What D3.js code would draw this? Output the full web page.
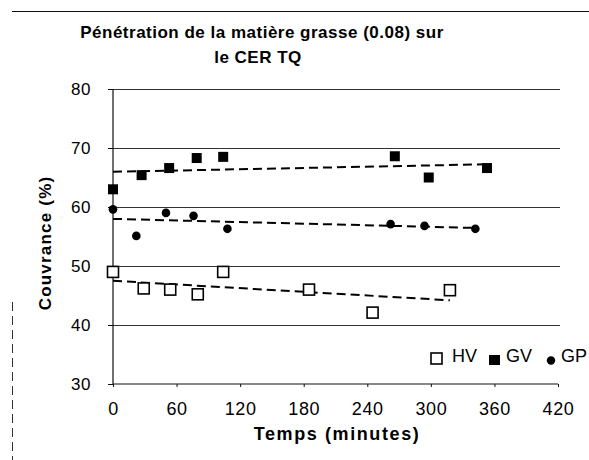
<!DOCTYPE html>
<html><head><meta charset="utf-8">
<script src="https://cdn.jsdelivr.net/npm/d3@7/dist/d3.min.js"></script>
<style>
html,body{margin:0;padding:0;background:#fff;}
svg{display:block;font-family:"Liberation Sans",Arial,Helvetica,sans-serif;}
</style></head>
<body>
<svg id="chart" width="589" height="460"></svg>
<script>
// ---- data ----
const title1 = "Pénétration de la matière grasse (0.08) sur";
const title2 = "le CER TQ";
const xTitle = "Temps (minutes)";
const yTitle = "Couvrance (%)";
const xTicks = [0, 60, 120, 180, 240, 300, 360, 420];
const yTicks = [30, 40, 50, 60, 70, 80];
const seriesNames = ["HV", "GV", "GP"];

const hvX = [0, 29, 54, 80, 104, 185, 245, 318];
const hvY = [49.0, 46.2, 46.0, 45.2, 49.0, 46.0, 42.1, 45.9];
const gvX = [0, 27, 53, 79, 104, 266, 298, 353];
const gvY = [63.0, 65.4, 66.6, 68.3, 68.5, 68.6, 65.0, 66.6];
const gpX = [0, 22, 50, 76, 108, 262, 294, 342];
const gpY = [59.6, 55.1, 59.0, 58.5, 56.3, 57.1, 56.8, 56.3];

(function () {
const svg = d3.select("#chart");
const pL = 113, pR = 558, pT = 89, pB = 384;
const x = d3.scaleLinear().domain([0, 420]).range([pL, pR]);
const y = d3.scaleLinear().domain([30, 80]).range([pB, pT]);

// scan border artifacts
svg.append("line").attr("x1", 12).attr("x2", 589).attr("y1", 11.5).attr("y2", 11.5)
  .attr("stroke", "#111").attr("stroke-width", 1);
svg.append("line").attr("x1", 12.5).attr("x2", 12.5).attr("y1", 302).attr("y2", 460)
  .attr("stroke", "#333").attr("stroke-width", 1).attr("stroke-dasharray", "9,5");

// title
svg.append("text").attr("x", 262).attr("y", 38).attr("text-anchor", "middle")
  .attr("font-size", 17).attr("font-weight", "bold").attr("letter-spacing", 0.5).text(title1);
svg.append("text").attr("x", 258).attr("y", 63).attr("text-anchor", "middle")
  .attr("font-size", 17).attr("font-weight", "bold").attr("letter-spacing", 0.5).text(title2);

// gridlines
svg.append("g").selectAll("line").data(yTicks.filter(d => d > 30)).join("line")
  .attr("x1", pL).attr("x2", pR + 2)
  .attr("y1", d => Math.round(y(d)) + 0.5).attr("y2", d => Math.round(y(d)) + 0.5)
  .attr("stroke", "#333").attr("stroke-width", 1);

// axes
const yAxis = svg.append("g").attr("transform", `translate(${pL},0)`)
  .call(d3.axisLeft(y).tickValues(yTicks).tickSize(5).tickPadding(17).tickFormat(d3.format("d")));
const xAxis = svg.append("g").attr("transform", `translate(0,${pB})`)
  .call(d3.axisBottom(x).tickValues(xTicks).tickSize(3).tickPadding(15).tickFormat(d3.format("d")));
[xAxis, yAxis].forEach(a => {
  a.select(".domain").attr("stroke", "#111").attr("stroke-width", 1.2);
  a.selectAll(".tick line").attr("stroke", "#111");
  a.selectAll("text").attr("fill", "#000")
    .attr("font-family", "\"Liberation Sans\",Arial,sans-serif").attr("letter-spacing", 0.6);
});
yAxis.selectAll("text").attr("font-size", 17);
xAxis.selectAll("text").attr("font-size", 18);
xAxis.select(".domain").attr("d", `M${pL},0H${pR}`);
yAxis.select(".domain").attr("d", `M0,${pB}V${pT}`);

// axis titles
svg.append("text").attr("x", 337).attr("y", 440).attr("text-anchor", "middle")
  .attr("font-size", 18).attr("font-weight", "bold").attr("letter-spacing", 1.6).text(xTitle);
svg.append("text").attr("transform", "translate(51,243) rotate(-90)").attr("text-anchor", "middle")
  .attr("font-size", 17).attr("font-weight", "bold").attr("letter-spacing", 1.2).text(yTitle);

// linear trendlines (least squares, as in the source spreadsheet)
function trend(xs, ys) {
  const mx = d3.mean(xs), my = d3.mean(ys);
  let sxy = 0, sxx = 0;
  xs.forEach((v, i) => { sxy += (v - mx) * (ys[i] - my); sxx += (v - mx) * (v - mx); });
  const b = sxy / sxx, a = my - b * mx;
  const x0 = d3.min(xs), x1 = d3.max(xs);
  return [[x0, a + b * x0], [x1, a + b * x1]];
}
const line = d3.line().x(d => x(d[0])).y(d => y(d[1]));
[[hvX, hvY], [gvX, gvY], [gpX, gpY]].forEach(([xs, ys]) => {
  svg.append("path").attr("d", line(trend(xs, ys))).attr("fill", "none")
    .attr("stroke", "#000").attr("stroke-width", 2).attr("stroke-dasharray", "9,5");
});

// markers
svg.append("g").selectAll("rect").data(hvX.map((d, i) => [d, hvY[i]])).join("rect")
  .attr("x", d => x(d[0]) - 5.5).attr("y", d => y(d[1]) - 5.5).attr("width", 11).attr("height", 11)
  .attr("fill", "#fff").attr("stroke", "#000").attr("stroke-width", 1.6);
svg.append("g").selectAll("rect").data(gvX.map((d, i) => [d, gvY[i]])).join("rect")
  .attr("x", d => x(d[0]) - 5).attr("y", d => y(d[1]) - 5).attr("width", 10).attr("height", 10)
  .attr("fill", "#000");
svg.append("g").selectAll("circle").data(gpX.map((d, i) => [d, gpY[i]])).join("circle")
  .attr("cx", d => x(d[0])).attr("cy", d => y(d[1])).attr("r", 4.3).attr("fill", "#000");

// legend
const lg = svg.append("g").attr("font-size", 18);
lg.append("rect").attr("x", 431).attr("y", 353).attr("width", 11).attr("height", 11)
  .attr("fill", "#fff").attr("stroke", "#000").attr("stroke-width", 1.6);
lg.append("text").attr("x", 452).attr("y", 362).text(seriesNames[0]);
lg.append("rect").attr("x", 489).attr("y", 355).attr("width", 11).attr("height", 10).attr("fill", "#000");
lg.append("text").attr("x", 506).attr("y", 362).text(seriesNames[1]);
lg.append("circle").attr("cx", 551).attr("cy", 360.5).attr("r", 4.2).attr("fill", "#000");
lg.append("text").attr("x", 561).attr("y", 362).text(seriesNames[2]);
})();
</script>
</body></html>
